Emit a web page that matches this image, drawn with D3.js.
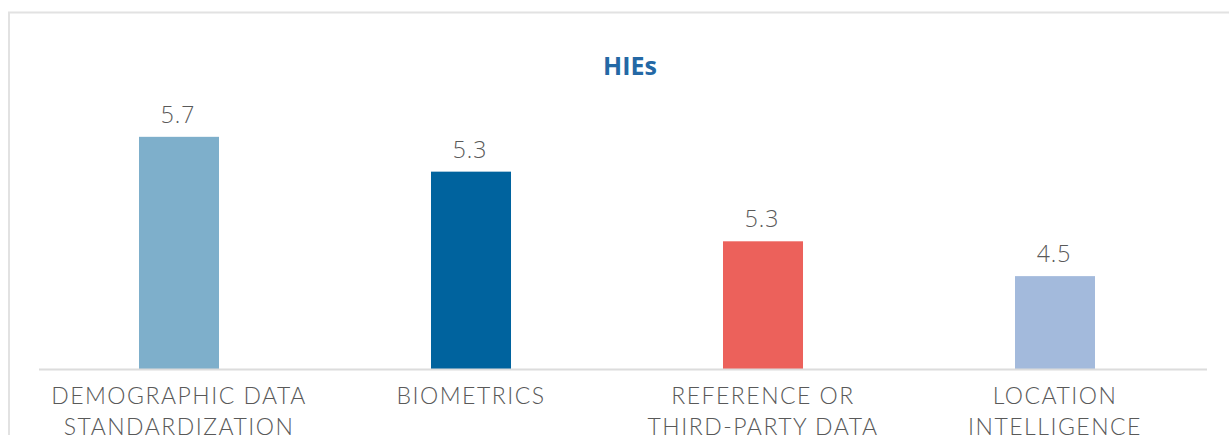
<!DOCTYPE html>
<html>
<head>
<meta charset="utf-8">
<script src="https://cdn.jsdelivr.net/npm/d3@7"></script>
<style>
  html, body { margin: 0; padding: 0; background: #fff; }
  svg { display: block; }
</style>
</head>
<body>
<svg id="chart"></svg>
<script>
// data
const categories = [
  ["DEMOGRAPHIC DATA", "STANDARDIZATION"],
  ["BIOMETRICS"],
  ["REFERENCE OR", "THIRD-PARTY DATA"],
  ["LOCATION", "INTELLIGENCE"]
];
const barValues = [5.7, 5.4, 4.8, 4.5]; // bar heights as drawn
const valueLabels = ["5.7", "5.3", "5.3", "4.5"]; // printed labels
const barColors = ["#7eafcb", "#00639e", "#ec615b", "#a3badc"];
const title = "HIEs";

const width = 1229, height = 435;
const svg = d3.select("#chart").attr("width", width).attr("height", height);

// outer frame (cut off at right/bottom)
svg.append("rect")
  .attr("x", 9).attr("y", 12.5)
  .attr("width", 1400).attr("height", 600)
  .attr("fill", "none")
  .attr("stroke", "#e2e2e2")
  .attr("stroke-width", 2);

const x = d3.scaleBand()
  .domain(d3.range(categories.length))
  .range([33, 1201])
  .paddingInner(0.726)
  .paddingOuter(0.363);

const y = d3.scaleLinear()
  .domain([3.7, 6])
  .range([369, 102]);

// title
svg.append("text")
  .attr("x", 630).attr("y", 75)
  .attr("text-anchor", "middle")
  .style("font-family", "'Open Sans', sans-serif")
  .style("font-size", "25px")
  .style("font-weight", 700)
  .attr("fill", "#2468a5")
  .text(title);

// bars
svg.append("g")
  .selectAll("rect")
  .data(barValues)
  .join("rect")
  .attr("x", (d, i) => x(i))
  .attr("y", (d) => y(d))
  .attr("width", x.bandwidth())
  .attr("height", (d) => y.range()[0] - y(d))
  .attr("fill", (d, i) => barColors[i]);

// axis line
svg.append("line")
  .attr("x1", 39).attr("x2", 1207)
  .attr("y1", 369.5).attr("y2", 369.5)
  .attr("stroke", "#dcdcdc")
  .attr("stroke-width", 2);

// value labels
svg.append("g")
  .selectAll("text")
  .data(barValues)
  .join("text")
  .attr("x", (d, i) => x(i) + x.bandwidth() / 2 - 1)
  .attr("y", (d) => y(d) - 14)
  .attr("text-anchor", "middle")
  .style("font-family", "'Open Sans', sans-serif")
  .style("font-size", "23px")
  .style("font-weight", 300)
  .style("letter-spacing", "1px")
  .attr("fill", "#595959")
  .text((d, i) => valueLabels[i]);

// category labels
const cat = svg.append("g")
  .selectAll("text")
  .data(categories)
  .join("text")
  .attr("x", (d, i) => x(i) + x.bandwidth() / 2)
  .attr("y", 404)
  .attr("text-anchor", "middle")
  .style("font-family", "Lato, sans-serif")
  .style("font-size", "23px")
  .style("font-weight", 300)
  .style("letter-spacing", "1.5px")
  .attr("fill", "#595959");

cat.each(function (lines) {
  d3.select(this)
    .selectAll("tspan")
    .data(lines)
    .join("tspan")
    .attr("x", d3.select(this).attr("x"))
    .attr("dy", (d, j) => (j === 0 ? 0 : 31))
    .text((d) => d);
});
</script>
</body>
</html>
